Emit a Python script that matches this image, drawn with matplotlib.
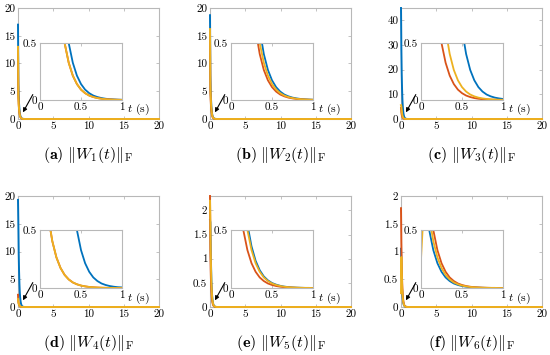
import matplotlib
matplotlib.use("Agg")
import matplotlib.pyplot as plt
from matplotlib.ticker import FuncFormatter

# time samples (s) shared by every curve
T = [0.0, 0.05, 0.1, 0.15, 0.2, 0.25, 0.3, 0.35, 0.4, 0.45, 0.5,
     0.55, 0.6, 0.65, 0.7, 0.75, 0.8, 0.85, 0.9, 0.95, 1.0, 20.0]

W1_BLUE = [17.0, 6.4, 4.19, 2.74, 1.79, 1.17, 0.765, 0.5, 0.327, 0.214, 0.140,
           0.091, 0.060, 0.039, 0.026, 0.017, 0.011, 0.007, 0.005, 0.003, 0.002, 0.0]
W1_RED = [12.5, 4.19, 2.74, 1.79, 1.17, 0.765, 0.5, 0.327, 0.214, 0.140, 0.091,
          0.060, 0.039, 0.026, 0.017, 0.011, 0.007, 0.005, 0.003, 0.002, 0.001, 0.0]
W1_YELLOW = [13.0, 4.19, 2.74, 1.79, 1.17, 0.765, 0.5, 0.327, 0.214, 0.140, 0.091,
             0.060, 0.039, 0.026, 0.017, 0.011, 0.007, 0.005, 0.003, 0.002, 0.001, 0.0]

W2_BLUE = [18.7, 7.93, 5.18, 3.39, 2.21, 1.447, 0.946, 0.618, 0.404, 0.264, 0.173,
           0.113, 0.074, 0.048, 0.032, 0.021, 0.014, 0.009, 0.006, 0.004, 0.0025, 0.0]
W2_RED = [15.5, 5.18, 3.39, 2.21, 1.447, 0.946, 0.618, 0.404, 0.264, 0.173, 0.113,
          0.074, 0.048, 0.032, 0.021, 0.014, 0.009, 0.006, 0.004, 0.0025, 0.0016, 0.0]
W2_YELLOW = [16.2, 6.4, 4.19, 2.74, 1.79, 1.17, 0.765, 0.5, 0.327, 0.214, 0.140,
             0.091, 0.060, 0.039, 0.026, 0.017, 0.011, 0.007, 0.005, 0.003, 0.002, 0.0]

W3_BLUE = [45.0, 28.3, 18.5, 12.1, 7.93, 5.18, 3.39, 2.21, 1.447, 0.946, 0.618,
           0.404, 0.264, 0.173, 0.113, 0.074, 0.048, 0.032, 0.021, 0.014, 0.009, 0.0]
W3_RED = [4.5, 2.74, 1.79, 1.17, 0.765, 0.5, 0.327, 0.214, 0.140, 0.091, 0.060,
          0.039, 0.026, 0.017, 0.011, 0.007, 0.005, 0.003, 0.002, 0.001, 0.001, 0.0]
W3_YELLOW = [5.6, 5.18, 3.39, 2.21, 1.447, 0.946, 0.618, 0.404, 0.264, 0.173, 0.113,
             0.074, 0.048, 0.032, 0.021, 0.014, 0.009, 0.006, 0.004, 0.0025, 0.0016, 0.0]

W4_BLUE = [19.3, 15.0, 9.8, 6.4, 4.19, 2.74, 1.79, 1.17, 0.765, 0.5, 0.327,
           0.214, 0.140, 0.091, 0.060, 0.039, 0.026, 0.017, 0.011, 0.007, 0.005, 0.0]
W4_RED = [2.2, 0.946, 0.618, 0.404, 0.264, 0.173, 0.113, 0.074, 0.048, 0.032, 0.021,
          0.014, 0.009, 0.006, 0.004, 0.0025, 0.0016, 0.001, 0.001, 0.0, 0.0, 0.0]
W4_YELLOW = [1.45, 0.946, 0.618, 0.404, 0.264, 0.173, 0.113, 0.074, 0.048, 0.032, 0.021,
             0.014, 0.009, 0.006, 0.004, 0.0025, 0.0016, 0.001, 0.001, 0.0, 0.0, 0.0]

W5_BLUE = [1.8, 1.75, 1.29, 0.84, 0.55, 0.36, 0.235, 0.154, 0.100, 0.066, 0.043,
           0.029, 0.019, 0.012, 0.008, 0.005, 0.003, 0.002, 0.001, 0.001, 0.0, 0.0]
W5_RED = [2.3, 1.17, 0.765, 0.5, 0.327, 0.214, 0.140, 0.091, 0.060, 0.039, 0.026,
          0.017, 0.011, 0.007, 0.005, 0.003, 0.002, 0.001, 0.001, 0.0, 0.0, 0.0]
W5_YELLOW = [2.2, 1.79, 1.17, 0.765, 0.5, 0.327, 0.214, 0.140, 0.091, 0.060, 0.039,
             0.026, 0.017, 0.011, 0.007, 0.005, 0.003, 0.002, 0.001, 0.001, 0.0, 0.0]

W6_BLUE = [1.05, 0.765, 0.5, 0.327, 0.214, 0.140, 0.091, 0.060, 0.039, 0.026, 0.017,
           0.011, 0.007, 0.005, 0.003, 0.002, 0.001, 0.001, 0.0, 0.0, 0.0, 0.0]
W6_RED = [1.78, 1.17, 0.765, 0.5, 0.327, 0.214, 0.140, 0.091, 0.060, 0.039, 0.026,
          0.017, 0.011, 0.007, 0.005, 0.003, 0.002, 0.001, 0.001, 0.0, 0.0, 0.0]
W6_YELLOW = [0.25, 0.9, 0.618, 0.404, 0.264, 0.173, 0.113, 0.074, 0.048, 0.032, 0.021,
             0.014, 0.009, 0.006, 0.004, 0.0025, 0.0016, 0.001, 0.001, 0.0, 0.0, 0.0]

LETTERS = ["a", "b", "c", "d", "e", "f"]
Y_MAX = [20, 20, 45, 20, 2.3, 2]
Y_TICKS = [
    [0, 5, 10, 15, 20],
    [0, 5, 10, 15, 20],
    [0, 10, 20, 30, 40],
    [0, 5, 10, 15, 20],
    [0, 0.5, 1, 1.5, 2],
    [0, 0.5, 1, 1.5, 2],
]
X_TICKS = [0, 5, 10, 15, 20]
INSET_X_TICKS = [0, 0.5, 1]
INSET_Y_TICKS = [0, 0.5]

BLUE = "#0072BD"
RED = "#D95319"
YELLOW = "#EDB120"
FRAME = "#b8b8b8"

W, H = 550, 355


def px_rect(left, top, right, bottom):
    # pixel box -> figure fraction rect
    return [left / W, 1 - bottom / H, (right - left) / W, (bottom - top) / H]


def style_axes(ax):
    for s in ax.spines.values():
        s.set_color(FRAME)
        s.set_linewidth(0.8)
    ax.tick_params(direction="in", top=True, right=True, length=2.5, width=0.6,
                   color=FRAME, labelsize=8, pad=2)
    ax.xaxis.set_major_formatter(FuncFormatter(lambda v, p: "%g" % v))
    ax.yaxis.set_major_formatter(FuncFormatter(lambda v, p: "%g" % v))


def draw_panel(fig, idx, curves):
    col = idx % 3
    row = idx // 3
    main_l = [18, 210, 401][col]
    inset_l = [40, 231, 421][col]
    top = [8, 196][row]
    bottom = [119, 307][row]
    in_top = [43, 230][row]
    in_bottom = [100, 288][row]

    ax = fig.add_axes(px_rect(main_l, top, main_l + 141, bottom))
    for vals, c in zip(curves, [BLUE, RED, YELLOW]):
        ax.plot(T, vals, color=c, lw=1.4, zorder=3, clip_on=False)
    ax.set_xlim(0, 20)
    ax.set_ylim(0, Y_MAX[idx])
    ax.set_xticks(X_TICKS)
    ax.set_yticks(Y_TICKS[idx])
    style_axes(ax)

    ax.annotate("", xy=(0.035, 0.06), xytext=(0.105, 0.22), xycoords="axes fraction",
                arrowprops=dict(arrowstyle="-|>", color="k", lw=0.8, mutation_scale=6,
                                shrinkA=0, shrinkB=0))

    axi = fig.add_axes(px_rect(inset_l, in_top, inset_l + 82, in_bottom))
    for vals, c in zip(curves, [BLUE, RED, YELLOW]):
        axi.plot(T, vals, color=c, lw=1.3)
    axi.set_xlim(0, 1)
    axi.set_ylim(0, 0.5)
    axi.set_xticks(INSET_X_TICKS)
    axi.set_yticks(INSET_Y_TICKS)
    style_axes(axi)
    axi.text(1.06, -0.17, r"$t$ (s)", transform=axi.transAxes, fontsize=8.5,
             ha="left", va="center")

    cx = (main_l + 70.5) / W
    cy = 1 - ([155, 343][row]) / H
    fig.text(cx, cy, r"$\mathbf{(%s)}\ \|W_%d(t)\|_{\mathrm{F}}$" % (LETTERS[idx], idx + 1),
             ha="center", va="center", fontsize=11.5)


def main():
    plt.rcParams["font.family"] = "serif"
    plt.rcParams["font.serif"] = ["cmr10", "DejaVu Serif"]
    plt.rcParams["mathtext.fontset"] = "cm"
    plt.rcParams["axes.formatter.use_mathtext"] = True

    all_curves = [
        [W1_BLUE, W1_RED, W1_YELLOW],
        [W2_BLUE, W2_RED, W2_YELLOW],
        [W3_BLUE, W3_RED, W3_YELLOW],
        [W4_BLUE, W4_RED, W4_YELLOW],
        [W5_BLUE, W5_RED, W5_YELLOW],
        [W6_BLUE, W6_RED, W6_YELLOW],
    ]

    fig = plt.figure(figsize=(W / 100, H / 100), dpi=100)
    for i, curves in enumerate(all_curves):
        draw_panel(fig, i, curves)
    fig.savefig("out.png", dpi=100)


if __name__ == "__main__":
    main()
